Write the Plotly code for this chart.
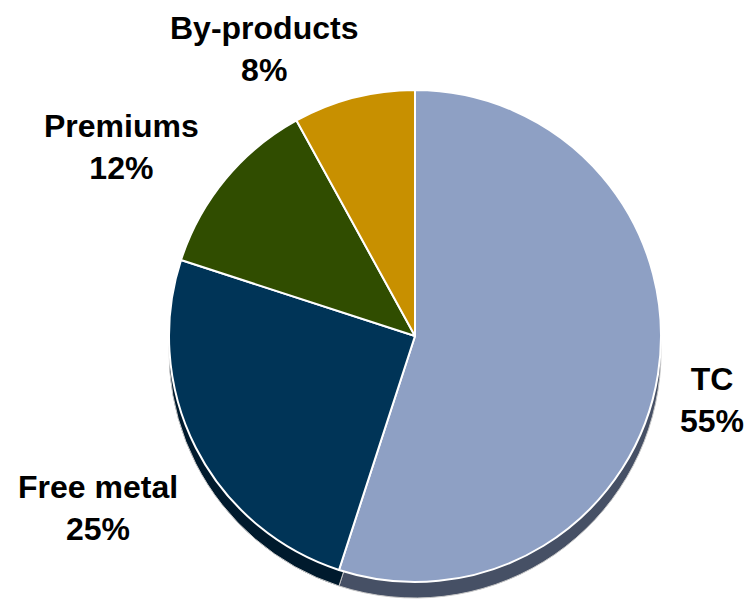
import plotly.graph_objects as go

categories = ["TC", "Free metal", "Premiums", "By-products"]
shares = [55, 25, 12, 8]
label_text = ["TC<br>55%", "Free metal<br>25%", "Premiums<br>12%", "By-products<br>8%"]

top_colors = ["#8EA0C4", "#003457", "#304D00", "#C89000"]
side_colors = ["#465065", "#001A2D", "#18270A", "#644800"]

# the page body adds an 8px offset; size the figure to fill the window exactly
OFF = 8
W, H = 752 - OFF, 600 - OFF
cx, cy, r, depth = 415 - OFF, 336 - OFF, 246, 16

def dom_x(c, rr):
    return [max(0, (c - rr) / W), min(1, (c + rr) / W)]

def dom_y(c, rr):
    return [max(0, (H - c - rr) / H), min(1, (H - c + rr) / H)]

fig = go.Figure()
# side / depth layer
fig.add_trace(go.Pie(
    labels=categories, values=shares, sort=False, direction="clockwise", rotation=0,
    marker=dict(colors=side_colors, line=dict(color="#C8C8C8", width=1)),
    textinfo="none", hoverinfo="skip", showlegend=False,
    domain=dict(x=dom_x(cx, r), y=dom_y(cy + depth, r)),
))
# top face
fig.add_trace(go.Pie(
    labels=categories, values=shares, sort=False, direction="clockwise", rotation=0,
    marker=dict(colors=top_colors, line=dict(color="#FFFFFF", width=2)),
    textinfo="none", showlegend=False,
    domain=dict(x=dom_x(cx, r), y=dom_y(cy, r)),
))

label_pos = {
    "TC": (712, 400),
    "Free metal": (98, 508),
    "Premiums": (121, 147),
    "By-products": (264, 49),
}
for cat, txt in zip(categories, label_text):
    x, y = label_pos[cat]
    fig.add_annotation(
        x=(x - OFF) / W, y=1 - (y - OFF) / H, xref="paper", yref="paper",
        text=f"<b>{txt}</b>", showarrow=False, align="center",
        xanchor="center", yanchor="middle",
        font=dict(family="Arial, Liberation Sans, sans-serif", size=32, color="#000000"),
    )

fig.update_layout(
    width=W, height=H,
    margin=dict(l=0, r=0, t=0, b=0),
    paper_bgcolor="#FFFFFF", plot_bgcolor="#FFFFFF",
)
fig.write_html("out.html")
